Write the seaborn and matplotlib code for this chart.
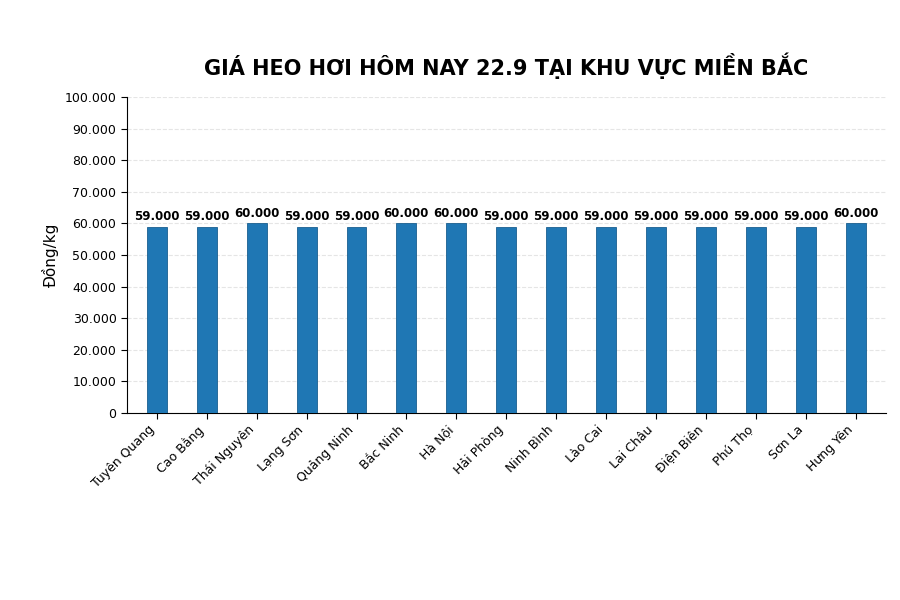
import matplotlib
matplotlib.use("Agg")
import matplotlib.pyplot as plt
import matplotlib.ticker as mticker
import seaborn as sns
import pandas as pd

provinces = ["Tuyên Quang", "Cao Bằng", "Thái Nguyên", "Lạng Sơn", "Quảng Ninh",
             "Bắc Ninh", "Hà Nội", "Hải Phòng", "Ninh Bình", "Lào Cai",
             "Lai Châu", "Điện Biên", "Phú Thọ", "Sơn La", "Hưng Yên"]
prices = [59000, 59000, 60000, 59000, 59000, 60000, 60000, 59000, 59000, 59000,
          59000, 59000, 59000, 59000, 60000]

df = pd.DataFrame({"province": provinces, "price": prices})

def dot_fmt(v, pos=None):
    return f"{int(v):,}".replace(",", ".")

sns.set_style("white")
plt.rcParams['font.family'] = ['DejaVu Sans']
plt.rcParams['text.color'] = 'black'
plt.rcParams['xtick.color'] = 'black'
plt.rcParams['ytick.color'] = 'black'
plt.rcParams['axes.labelcolor'] = 'black'
plt.rcParams['axes.edgecolor'] = 'black'

fig, ax = plt.subplots(figsize=(9, 6), dpi=100)
fig.subplots_adjust(left=0.141, right=0.984, top=0.838, bottom=0.312)

sns.barplot(data=df, x="province", y="price", color="#1f77b4", saturation=1,
            width=0.4, ax=ax, zorder=3, edgecolor="#1a5f8f", linewidth=0.6)

for i, v in enumerate(prices):
    ax.text(i, v + 1200, dot_fmt(v), ha="center", va="bottom", fontsize=8.5, fontweight="bold")

ax.set_ylim(0, 100000)
ax.yaxis.set_major_locator(mticker.MultipleLocator(10000))
ax.yaxis.set_major_formatter(mticker.FuncFormatter(dot_fmt))
ax.grid(axis="y", linestyle="--", alpha=0.5, zorder=0)
ax.set_xlabel("")
ax.set_ylabel("Đồng/kg", fontsize=11)
ax.tick_params(axis="both", labelsize=9, length=4, left=True, bottom=True)
plt.setp(ax.get_xticklabels(), rotation=45, ha="right")
ax.set_xlim(-0.6, len(provinces) - 0.4)
sns.despine(ax=ax)
ax.set_title("GIÁ HEO HƠI HÔM NAY 22.9 TẠI KHU VỰC MIỀN BẮC", fontsize=15,
             fontweight="bold", pad=16)

fig.savefig("out.png", dpi=100)
